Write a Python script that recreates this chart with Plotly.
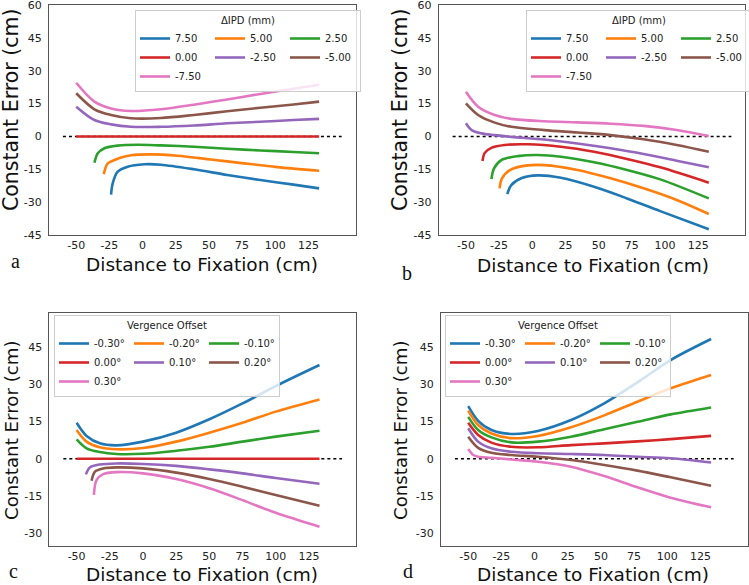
import plotly.graph_objects as go

# colours (matplotlib tab10)
colors = ['#1f77b4', '#ff7f0e', '#2ca02c', '#d62728', '#9467bd', '#8c564b', '#e377c2']

ipd_labels = ['7.50', '5.00', '2.50', '0.00', '-2.50', '-5.00', '-7.50']
verg_labels = ['-0.30°', '-0.20°', '-0.10°', '0.00°', '0.10°', '0.20°', '0.30°']

# dotted reference line at zero
ref_x = [-60, 150]
ref_y = [0, 0]

x_ticks = [-50, -25, 0, 25, 50, 75, 100, 125]
y_ticks_top = [-45, -30, -15, 0, 15, 30, 45, 60]
y_ticks_bottom = [-30, -15, 0, 15, 30, 45]

# panel a: constant error vs distance, per delta IPD
a_x = [
    [-23.75, -22.5, -18.75, -11.25, 1.25, 13.75, 38.75, 63.75, 88.75, 113.75, 133],
    [-29.25, -28, -26.25, -18, -8.75, 6.25, 26.25, 51.25, 76.25, 101.25, 133],
    [-36.25, -33.75, -28.75, -18.75, -3.75, 13.75, 38.75, 63.75, 88.75, 113.75, 133],
    [-50, 133],
    [-50, -36.3, -23.75, -8.75, 13.75, 38.75, 63.75, 88.75, 113.75, 133],
    [-50, -36.3, -23.75, -8.75, 13.75, 38.75, 63.75, 88.75, 113.75, 133],
    [-50, -36.3, -23.75, -8.75, 13.75, 38.75, 63.75, 88.75, 113.75, 133],
]
a_y = [
    [-26.6, -21.4, -16.1, -13.8, -12.7, -12.9, -15.0, -17.6, -19.9, -22.0, -23.7],
    [-17.2, -14.5, -12.3, -10.0, -8.6, -8.2, -8.8, -10.5, -12.3, -14.0, -15.7],
    [-12.0, -7.7, -5.4, -4.2, -3.8, -4.1, -4.7, -5.6, -6.4, -7.1, -7.7],
    [0, 0],
    [13.6, 7.5, 5.5, 4.4, 4.4, 5.0, 6.0, 6.7, 7.5, 8.0],
    [19.7, 12.4, 9.8, 8.3, 8.4, 9.8, 11.5, 13.1, 14.6, 15.9],
    [24.5, 15.9, 12.8, 11.6, 12.4, 14.5, 16.9, 19.4, 21.8, 23.6],
]

# panel b
b_x = [
    [-18.8, -15.8, -8.3, 4.1, 21.6, 46.5, 71.4, 96.4, 133],
    [-24.6, -22.8, -15.8, -3.4, 9.1, 34.0, 59.0, 83.9, 108.8, 133],
    [-30.8, -28.8, -23.3, -10.9, 4.1, 21.6, 46.5, 71.4, 96.4, 133],
    [-37.5, -35.8, -30.8, -20.8, -3.4, 21.6, 46.5, 71.4, 96.4, 133],
    [-50, -45.7, -38.3, -28.3, -15.8, 9.1, 34.0, 59.0, 83.9, 108.8, 133],
    [-50, -40.8, -28.3, -15.8, 9.1, 34.0, 59.0, 83.9, 108.8, 133],
    [-50, -40.8, -28.3, -15.8, 9.1, 34.0, 59.0, 83.9, 108.8, 133],
]
b_y = [
    [-26.3, -22.2, -19.1, -17.8, -18.9, -23.0, -28.3, -34.1, -42.4],
    [-23.7, -19.1, -15.0, -13.2, -13.1, -15.3, -19.1, -23.7, -29.0, -35.4],
    [-19.5, -14.6, -10.8, -9.0, -8.5, -9.3, -11.8, -15.3, -19.6, -28.3],
    [-11.2, -7.5, -5.2, -3.9, -3.6, -4.7, -7.0, -10.3, -14.1, -21.1],
    [6.0, 2.9, 1.4, 0.6, -0.2, -1.4, -3.2, -5.4, -8.0, -11.1, -14.1],
    [15.1, 9.8, 6.3, 4.4, 2.9, 1.8, 0.6, -1.3, -3.9, -7.0],
    [20.4, 13.6, 9.8, 8.0, 6.9, 6.4, 5.8, 4.8, 2.9, 0.2],
]

# panel c: per vergence offset
c_x = [
    [-50, -42.5, -32.5, -20, 0, 25, 50, 75, 100, 133],
    [-50, -42.5, -32.5, -20, 0, 25, 50, 75, 100, 133],
    [-50, -42.5, -32.5, -20, 0, 25, 50, 75, 100, 133],
    [-50, 133],
    [-43, -40, -32.5, -20, 0, 25, 50, 75, 100, 133],
    [-38.7, -36.2, -30, -20, 0, 25, 50, 75, 100, 133],
    [-37, -35, -30, -20, 0, 25, 50, 75, 100, 133],
]
c_y = [
    [14.5, 9.2, 6.2, 5.4, 6.9, 10.5, 15.9, 22.3, 29.3, 37.8],
    [11.6, 6.9, 4.6, 3.8, 4.3, 6.9, 10.5, 14.5, 19.0, 23.9],
    [7.8, 4.2, 2.7, 1.9, 2.0, 3.2, 4.8, 6.9, 8.9, 11.3],
    [0, 0],
    [-6.3, -3.5, -2.3, -1.9, -2.1, -2.9, -4.3, -5.9, -7.8, -10.1],
    [-8.9, -5.2, -3.9, -3.5, -3.9, -5.6, -8.2, -11.3, -14.6, -19.0],
    [-14.6, -8.6, -6.2, -5.4, -5.9, -8.2, -11.9, -16.7, -21.8, -27.4],
]

# panel d
d_x = [
    [-50, -42.5, -32.5, -17.5, 2.5, 27.5, 52.5, 77.5, 102.5, 133],
    [-50, -42.5, -32.5, -17.5, 2.5, 27.5, 52.5, 77.5, 102.5, 133],
    [-50, -42.5, -32.5, -17.5, 2.5, 27.5, 52.5, 77.5, 102.5, 133],
    [-50, -42.5, -32.5, -17.5, 2.5, 27.5, 52.5, 77.5, 102.5, 133],
    [-50, -42.5, -32.5, -17.5, 2.5, 27.5, 52.5, 77.5, 102.5, 133],
    [-50, -42.5, -32.5, -17.5, 2.5, 27.5, 52.5, 77.5, 102.5, 133],
    [-50, -46.2, -42.5, -32.5, -17.5, 2.5, 27.5, 52.5, 77.5, 102.5, 133],
]
d_y = [
    [21.2, 15.3, 11.6, 10.0, 11.2, 15.6, 22.3, 30.8, 39.8, 48.3],
    [19.4, 13.6, 10.2, 8.3, 9.2, 12.7, 17.5, 23.0, 28.4, 33.8],
    [16.9, 11.6, 8.6, 6.6, 6.9, 8.9, 11.9, 14.9, 17.9, 20.7],
    [14.5, 9.6, 6.5, 4.8, 4.6, 5.5, 6.2, 7.0, 7.9, 9.2],
    [12.3, 6.9, 4.2, 2.8, 2.2, 1.9, 1.5, 0.8, 0.2, -1.5],
    [8.9, 4.4, 2.4, 1.5, 0.8, -0.5, -2.5, -4.8, -7.5, -10.9],
    [3.9, 1.5, 0.8, 0.4, -0.3, -1.2, -3.2, -7.0, -11.5, -15.7, -19.6],
]

W, H = 749, 585
FONT = 'DejaVu Sans'


def px(x):
    return x / W


def py(y):
    return 1 - y / H


panels = [
    # name, xs, ys, labels, legend title, x domain px, y domain px, y range, y ticks, legend corner px
    ('a', a_x, a_y, ipd_labels, 'ΔIPD (mm)', (49, 355.6), (5, 235), [-45, 60], y_ticks_top, (135, 10)),
    ('b', b_x, b_y, ipd_labels, 'ΔIPD (mm)', (438.7, 745.3), (5, 235), [-45, 60], y_ticks_top, (526, 10)),
    ('c', c_x, c_y, verg_labels, 'Vergence Offset', (49.4, 356), (312.7, 546), [-35.2, 58.9], y_ticks_bottom, (54, 315)),
    ('d', d_x, d_y, verg_labels, 'Vergence Offset', (441, 747.6), (312.7, 546), [-35.2, 58.9], y_ticks_bottom, (445, 315)),
]

fig = go.Figure()
layout = {}

for i, (name, xs, ys, labels, ltitle, xdom, ydom, yrange, yticks, lpos) in enumerate(panels):
    n = '' if i == 0 else str(i + 1)
    legend_name = 'legend' + n
    fig.add_trace(go.Scatter(
        x=ref_x, y=ref_y, mode='lines', xaxis='x' + n, yaxis='y' + n,
        line=dict(color='black', width=1.6, dash='dot'), showlegend=False, hoverinfo='skip'))
    for k in range(len(labels)):
        fig.add_trace(go.Scatter(
            x=xs[k], y=ys[k], mode='lines', name=labels[k],
            xaxis='x' + n, yaxis='y' + n,
            line=dict(color=colors[k], width=2.6, shape='spline', smoothing=0.9),
            legend=legend_name, legendgroup=name + str(k % 3)))

    axis_common = dict(showline=True, mirror=True, linecolor='#555', linewidth=1,
                       ticks='', showgrid=False, zeroline=False, ticklabeloverflow='allow',
                       tickfont=dict(family=FONT, size=11, color='#222'))
    layout['xaxis' + n] = dict(axis_common, domain=[px(xdom[0]), px(xdom[1])], range=[-70.5, 160.5],
                               tickvals=x_ticks, ticktext=[str(v) for v in x_ticks],
                               anchor='y' + n)
    layout['yaxis' + n] = dict(axis_common, domain=[py(ydom[1]), py(ydom[0])], range=yrange,
                               tickvals=yticks, ticktext=[str(v) for v in yticks],
                               ticklabelstandoff=4, anchor='x' + n)
    layout[legend_name] = dict(
        x=px(lpos[0]), y=py(lpos[1]), xanchor='left', yanchor='top', orientation='h',
        entrywidth=30, bgcolor='rgba(255,255,255,0.8)', bordercolor='#cccccc', borderwidth=1,
        font=dict(family=FONT, size=10, color='#222'), groupclick='toggleitem',
        title=dict(text=ltitle, side='top center', font=dict(family=FONT, size=10, color='#222')))

fig.update_layout(**layout)

# axis titles and panel letters
title_pos = [
    # x title (x, y), y title (x, y), y title size, letter (x, y)
    ((201.7, 265), (11, 110), 20.5, (15, 261)),
    ((593.3, 266), (400, 110), 20.5, (407, 273)),
    ((202, 574), (11, 430), 18.2, (13, 571)),
    ((593, 574), (400, 430), 18.2, (408, 571)),
]
letters = ['a', 'b', 'c', 'd']
for (xt, yt, ysize, lt), letter in zip(title_pos, letters):
    fig.add_annotation(text='Distance to Fixation (cm)', x=px(xt[0]), y=py(xt[1]), xref='paper', yref='paper',
                       xanchor='center', yanchor='middle', showarrow=False,
                       font=dict(family=FONT, size=18.5, color='#111'))
    fig.add_annotation(text='Constant Error (cm)', x=px(yt[0]), y=py(yt[1]), xref='paper', yref='paper',
                       xanchor='center', yanchor='middle', showarrow=False, textangle=-90,
                       font=dict(family=FONT, size=ysize, color='#111'))
    fig.add_annotation(text=letter, x=px(lt[0]), y=py(lt[1]), xref='paper', yref='paper',
                       xanchor='center', yanchor='middle', showarrow=False,
                       font=dict(family='Liberation Serif', size=20, color='#111'))

fig.update_layout(width=W, height=H, margin=dict(l=0, r=0, t=0, b=0, autoexpand=False),
                  paper_bgcolor='white', plot_bgcolor='white')

# drop the page's default body margin so the figure sits at the window corner
fig.write_html('out.html', config={'displayModeBar': False},
               post_script="document.body.style.margin='0';")
